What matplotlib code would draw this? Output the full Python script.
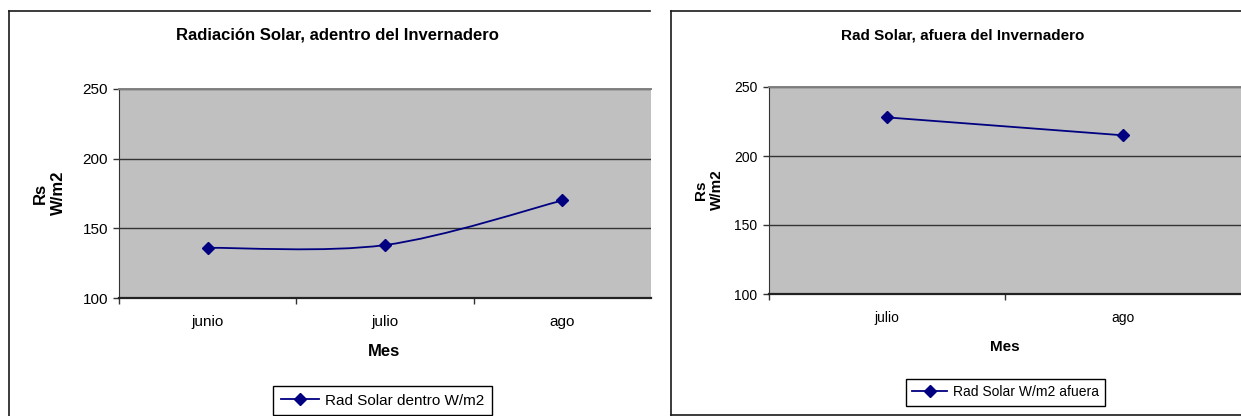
import matplotlib
matplotlib.use("Agg")
import matplotlib.pyplot as plt
from matplotlib.lines import Line2D
from matplotlib.path import Path
from matplotlib.patches import PathPatch
import numpy as np

plt.rcParams["font.family"] = ["Liberation Sans", "DejaVu Sans"]

# ── data ──────────────────────────────────────────────────────────────────────
meses_dentro = ["junio", "julio", "ago"]
rs_dentro    = [136, 138, 170]

meses_afuera = ["julio", "ago"]
rs_afuera    = [228, 215]

Y_MIN, Y_MAX, Y_STEP = 100, 250, 50

# ── layout (pixels) ───────────────────────────────────────────────────────────
W, H = 1241, 416
NAVY = "#000080"
GRAY = "#C0C0C0"
MS   = 6.5
LW   = 1.3


def fx(px):
    return px / W


def fy(py):
    return 1 - py / H


def smooth_path(xs, ys):
    # cubic bezier through the points, same idea as a spreadsheet "smoothed line"
    pts = np.column_stack([xs, ys]).astype(float)
    n = len(pts)
    verts = [pts[0]]
    codes = [Path.MOVETO]
    for i in range(n - 1):
        p0 = pts[max(i - 1, 0)]
        p1 = pts[i]
        p2 = pts[i + 1]
        p3 = pts[min(i + 2, n - 1)]
        c1 = p1 + (p2 - p0) / 6
        c2 = p2 - (p3 - p1) / 6
        verts += [c1, c2, p2]
        codes += [Path.CURVE4] * 3
    return Path(verts, codes)


def make_axes(fig, left, right, top, bottom, cats, values, fs, smooth, xlim_right):
    ax = fig.add_axes([fx(left), fy(bottom), fx(right) - fx(left), fy(top) - fy(bottom)])
    ax.set_facecolor(GRAY)
    x = np.arange(len(cats))
    if smooth:
        ax.add_patch(PathPatch(smooth_path(x, values), facecolor="none",
                               edgecolor=NAVY, lw=LW, zorder=3))
        ax.plot(x, values, ls="none", marker="D", ms=MS, color=NAVY, zorder=4)
    else:
        ax.plot(x, values, lw=LW, marker="D", ms=MS, color=NAVY, zorder=4)

    ax.set_ylim(Y_MIN, Y_MAX)
    ax.set_xlim(-0.5, xlim_right)
    ax.set_yticks(np.arange(Y_MIN, Y_MAX + 1, Y_STEP))
    ax.set_xticks(x)
    ax.set_xticklabels(cats)
    ax.set_xticks(x - 0.5, minor=True)
    ax.tick_params(axis="x", which="major", length=0, pad=12, labelsize=fs)
    ax.tick_params(axis="x", which="minor", length=4, width=1, color="#333333")
    ax.tick_params(axis="y", length=4, width=1, pad=4, labelsize=fs, color="#333333")
    ax.grid(True, axis="y", color="#333333", lw=1)
    ax.set_axisbelow(True)

    ax.spines["left"].set_color("#333333")
    ax.spines["bottom"].set_color("#222222")
    ax.spines["bottom"].set_linewidth(1.6)
    ax.spines["top"].set_color("#808080")
    ax.spines["top"].set_linewidth(1.4)
    ax.spines["right"].set_visible(False)
    return ax


fig = plt.figure(figsize=(W / 100, H / 100), dpi=100)

# ── chart frames ──────────────────────────────────────────────────────────────
frame = dict(color="#1a1a1a", lw=1.2, transform=fig.transFigure)
fig.add_artist(Line2D([fx(9), fx(650)], [fy(11), fy(11)], **frame))
fig.add_artist(Line2D([fx(9), fx(9)], [fy(11), fy(417)], **frame))
fig.add_artist(Line2D([fx(671), fx(1241)], [fy(11), fy(11)], **frame))
fig.add_artist(Line2D([fx(671), fx(671)], [fy(11), fy(415)], **frame))
fig.add_artist(Line2D([fx(671), fx(1241)], [fy(415), fy(415)], **frame))

# ── inside ────────────────────────────────────────────────────────────────────
ax1 = make_axes(fig, 119, 651, 89, 298, meses_dentro, rs_dentro, 11, True, 2.5)
fig.text(fx(337), fy(35), "Radiación Solar, adentro del Invernadero",
         ha="center", va="center", fontsize=12, fontweight="bold")
fig.text(fx(49), fy(193), "Rs\nW/m2", rotation=90, ha="center", va="center",
         fontsize=12, fontweight="bold", multialignment="center", linespacing=1.25)
fig.text(fx(384), fy(352), "Mes", ha="center", va="center",
         fontsize=12, fontweight="bold")
h1 = Line2D([], [], color=NAVY, lw=LW, marker="D", ms=MS)
fig.legend([h1], ["Rad Solar dentro W/m2"], loc="upper left",
           bbox_to_anchor=(fx(273), fy(386)), borderaxespad=0, fontsize=11,
           frameon=True, fancybox=False, edgecolor="black", framealpha=1,
           handlelength=2.5, handletextpad=0.4, borderpad=0.5)

# ── outside ───────────────────────────────────────────────────────────────────
ax2 = make_axes(fig, 768.5, 1241, 87, 294, meses_afuera, rs_afuera, 10, False, 1.5)
fig.text(fx(963), fy(35), "Rad Solar, afuera del Invernadero",
         ha="center", va="center", fontsize=11, fontweight="bold")
fig.text(fx(709), fy(190), "Rs\nW/m2", rotation=90, ha="center", va="center",
         fontsize=11, fontweight="bold", multialignment="center", linespacing=1.25)
fig.text(fx(1005), fy(347), "Mes", ha="center", va="center",
         fontsize=11, fontweight="bold")
h2 = Line2D([], [], color=NAVY, lw=LW, marker="D", ms=MS)
fig.legend([h2], ["Rad Solar W/m2 afuera"], loc="upper left",
           bbox_to_anchor=(fx(906), fy(379)), borderaxespad=0, fontsize=10,
           frameon=True, fancybox=False, edgecolor="black", framealpha=1,
           handlelength=2.5, handletextpad=0.4, borderpad=0.45)

fig.savefig("out.png", dpi=100)
